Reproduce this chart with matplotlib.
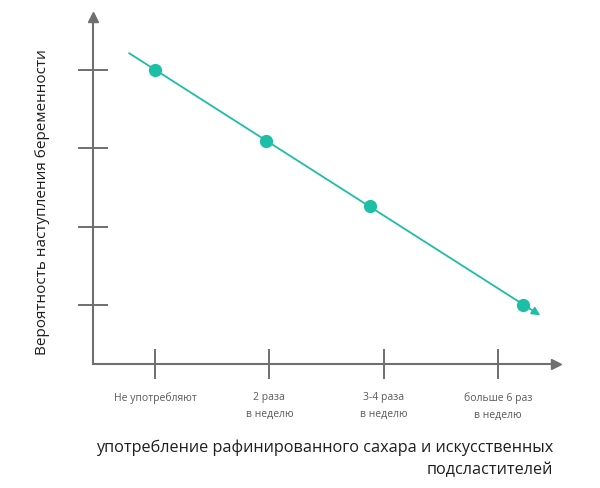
import numpy as np
import matplotlib
matplotlib.use("Agg")
import matplotlib.pyplot as plt

plt.rcParams['font.family'] = ['Open Sans', 'DejaVu Sans']

# categories on the x axis
categories = ['Не употребляют', '2 раза\nв неделю', '3-4 раза\nв неделю', 'больше 6 раз\nв неделю']
# where each point sits along the x axis
point_x = [0.0, 0.97, 1.88, 3.22]
# relative probability of pregnancy (no units on the chart)
point_y = [4.0, 3.10, 2.27, 1.0]
y_ticks = [1, 2, 3, 4]

x_title = 'употребление рафинированного сахара и искусственных\nподсластителей'
y_title = 'Вероятность наступления беременности'

teal = '#1cbfa6'
grey = '#6f6f6f'

fig = plt.figure(figsize=(6, 4.89), dpi=100)
ax = fig.add_axes([93/600, (489-365)/489, 463/600, 347/489])
ax.set_xlim(-0.5425, 3.508)
ax.set_ylim(0.2465, 4.678)

for s in ['top', 'right']:
    ax.spines[s].set_visible(False)
for s in ['left', 'bottom']:
    ax.spines[s].set_color(grey)
    ax.spines[s].set_linewidth(1.5)

# arrow heads on axes
ax.plot([0], [1], marker='^', color=grey, markersize=6.5, transform=ax.transAxes, clip_on=False)
ax.plot([1], [0], marker='>', color=grey, markersize=6.5, transform=ax.transAxes, clip_on=False)

ax.set_xticks(range(len(categories)))
ax.set_xticklabels(categories, fontsize=7.5, color='#5a5a5a', linespacing=1.7)
ax.set_yticks(y_ticks)
ax.set_yticklabels([])
ax.tick_params(direction='inout', length=21.6, width=1.4, color=grey)
ax.tick_params(axis='x', pad=9)

# trend line through the points, extended at both ends, with an arrow
k, b = np.polyfit(point_x, point_y, 1)
x0, x1 = -0.227, 3.37
ax.annotate('', xy=(x1, k*x1 + b), xytext=(x0, k*x0 + b),
            arrowprops=dict(arrowstyle='-|>', color=teal, lw=1.3,
                            mutation_scale=12, shrinkA=0, shrinkB=0))
ax.plot(point_x, point_y, 'o', color=teal, markersize=8.5, zorder=3)

fig.text(553/600, 1 - 440/489, x_title, ha='right', va='top', fontsize=11.7,
         color='#1e1e1e', multialignment='right', linespacing=1.5, weight='medium')
fig.text(42/600, 1 - 202/489, y_title, rotation=90, ha='center', va='center',
         fontsize=11, color='#1e1e1e', weight='medium')

fig.savefig('out.png', dpi=100)
